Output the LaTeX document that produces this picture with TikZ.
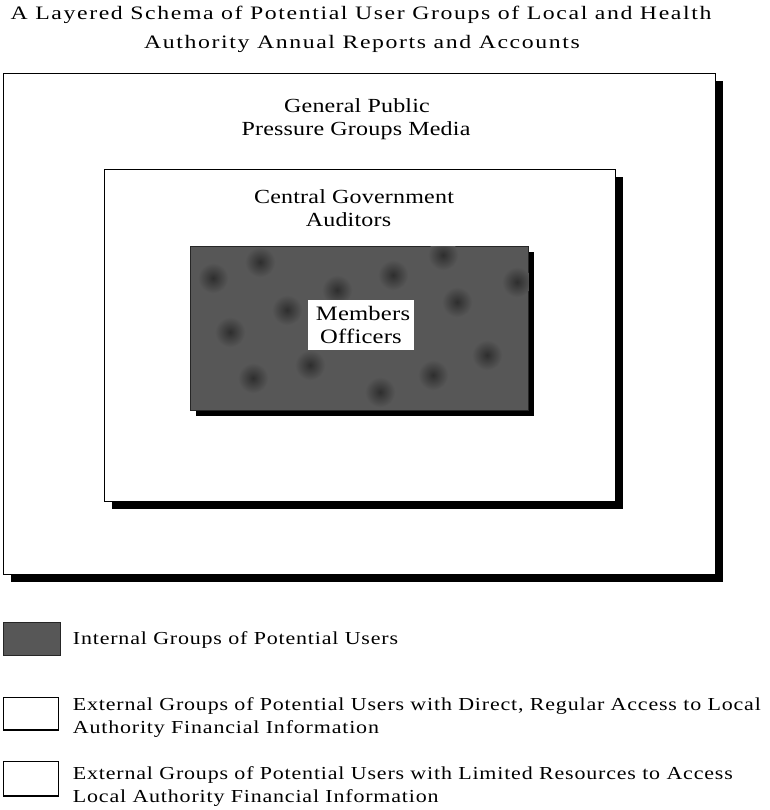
\documentclass[tikz,border=0pt]{standalone}
\usepackage{fontspec}
\setmainfont{Liberation Serif}[FakeStretch=1.2, LetterSpace=1]
\newfontfamily\titlefont{Liberation Serif}[FakeStretch=1.25, LetterSpace=8.5]
\newfontfamily\legfont{Liberation Serif}[FakeStretch=1.2, LetterSpace=4.5]
\usetikzlibrary{shadows}
\begin{document}
\begin{tikzpicture}[x=1pt,y=-1pt,
  layerbox/.style={draw=black, line width=1.4pt, fill=white, anchor=north west, inner sep=0pt,
    drop shadow={shadow xshift=7pt, shadow yshift=-7pt, opacity=1, fill=black}},
  darkbox/.style={draw=black!85, line width=0.8pt, fill=black!66, anchor=north west, inner sep=0pt,
    drop shadow={shadow xshift=6pt, shadow yshift=-6pt, opacity=1, fill=black}},
  titletext/.style={anchor=base, inner sep=0pt, font=\titlefont\fontsize{19}{23}\selectfont},
  boxtext/.style={anchor=base, inner sep=0pt, font=\fontsize{20}{24}\selectfont},
  legtext/.style={anchor=base west, inner sep=0pt, font=\legfont\fontsize{18.3}{22}\selectfont},
  legbox/.style={draw=black, line width=0.7pt, anchor=north west, inner sep=0pt, minimum width=55pt}
]
\useasboundingbox (0,0) rectangle (769,810);
% title
\node[titletext] (title1) at (361,19.5) {A Layered Schema of Potential User Groups of Local and Health};
\node[titletext] (title2) at (362,48.5) {Authority Annual Reports and Accounts};
% layers
\node[layerbox, minimum width=712pt, minimum height=501pt] (outer) at (3,73) {};
\node[layerbox, minimum width=511pt, minimum height=332pt] (middle) at (104,169) {};
\node[darkbox, minimum width=338pt, minimum height=164pt] (inner) at (190,246) {};
\begin{scope}
\clip (inner.north west) rectangle (inner.south east);
\foreach \px/\py in {213/278,260/262,337/290,287/310,230/332,393/275,457/302,517/282,487/355,310/365,253/378,433/375,380/392,443/255}
  \shade[inner color=black!82, outer color=black!66] (\px,\py) circle (15pt);
\end{scope}
\node[fill=white, inner sep=0pt, minimum width=106pt, minimum height=50pt] (lblbox) at (361,325) {};
% texts
\node[boxtext] (gp1) at (357,112.7) {General Public};
\node[boxtext] (gp2) at (356,135.5) {Pressure Groups Media};
\node[boxtext] (cg1) at (354,203.3) {Central Government};
\node[boxtext] (cg2) at (348.5,226.7) {Auditors};
\node[boxtext, font=\fontsize{20.5}{24}\selectfont] (mo1) at (363,320) {Members};
\node[boxtext, font=\fontsize{20.5}{24}\selectfont] (mo2) at (361,343) {Officers};
% legend
\node[draw=black!85, line width=0.6pt, fill=black!66, anchor=north west, inner sep=0pt,
  minimum width=57pt, minimum height=33pt] (leg1) at (3,622) {};
\node[legtext] (leg1t) at (72.7,644) {Internal Groups of Potential Users};
\node[legbox, minimum height=32pt] (leg2) at (3,697) {};
\draw[line width=1.6pt] (leg2.south west) -- (leg2.south east);
\node[legtext] (leg2a) at (72.7,710.7) {External Groups of Potential Users with Direct, Regular Access to Local};
\node[legtext] (leg2b) at (72.7,733.3) {Authority Financial Information};
\node[legbox, minimum height=34pt] (leg3) at (3,761) {};
\draw[line width=1.6pt] (leg3.south west) -- (leg3.south east);
\node[legtext] (leg3a) at (72.7,779.5) {External Groups of Potential Users with Limited Resources to Access};
\node[legtext] (leg3b) at (72.7,802.5) {Local Authority Financial Information};
\end{tikzpicture}
\end{document}
